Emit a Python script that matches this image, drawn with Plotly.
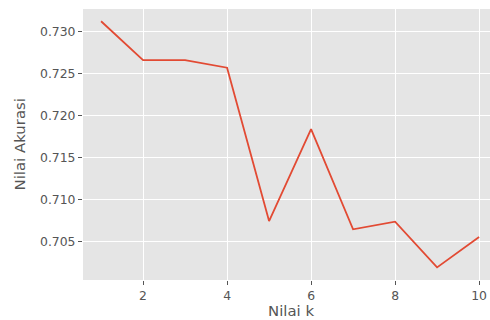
import plotly.graph_objects as go

k_values = [1, 2, 3, 4, 5, 6, 7, 8, 9, 10]
accuracy = [0.73118, 0.72657, 0.72657, 0.72566, 0.70744, 0.71836, 0.70645, 0.70736, 0.70193, 0.70554]
x_ticks = [2, 4, 6, 8, 10]
y_ticks = [0.705, 0.710, 0.715, 0.720, 0.725, 0.730]
x_title = "Nilai k"
y_title = "Nilai Akurasi"

fig = go.Figure()
fig.add_trace(go.Scatter(x=k_values, y=accuracy, mode="lines",
                         line=dict(color="#E24A33", width=1.8)))

font_family = "DejaVu Sans"
fig.update_layout(
    width=490, height=320,
    margin=dict(l=83, r=0, t=9, b=40),
    paper_bgcolor="white",
    plot_bgcolor="#E5E5E5",
    showlegend=False,
    font=dict(family=font_family, color="#555555", size=12.4),
)
fig.update_xaxes(
    range=[0.57, 10.26], tickvals=x_ticks, ticktext=[str(v) for v in x_ticks],
    showgrid=True, gridcolor="white", gridwidth=1.2, zeroline=False,
    ticks="outside", ticklen=4, tickcolor="#555555", tickwidth=1,
    showline=False, automargin=False,
)
fig.update_yaxes(
    range=[0.70043, 0.73264], tickvals=y_ticks, ticktext=[f"{v:.3f}" for v in y_ticks],
    showgrid=True, gridcolor="white", gridwidth=1.2, zeroline=False,
    ticks="outside", ticklen=4, tickcolor="#555555", tickwidth=1,
    showline=False, automargin=False,
)
fig.add_annotation(text=x_title, xref="paper", yref="paper", x=0.511, y=-0.113,
                   xanchor="center", yanchor="middle", showarrow=False,
                   font=dict(size=14.9, color="#555555"))
fig.add_annotation(text=y_title, xref="paper", yref="paper", x=-0.155, y=0.5,
                   xanchor="center", yanchor="middle", showarrow=False, textangle=-90,
                   font=dict(size=14.9, color="#555555"))
fig.write_html("out.html", config={"displayModeBar": False},
               post_script="document.body.style.margin='0';document.body.style.overflow='hidden';")
